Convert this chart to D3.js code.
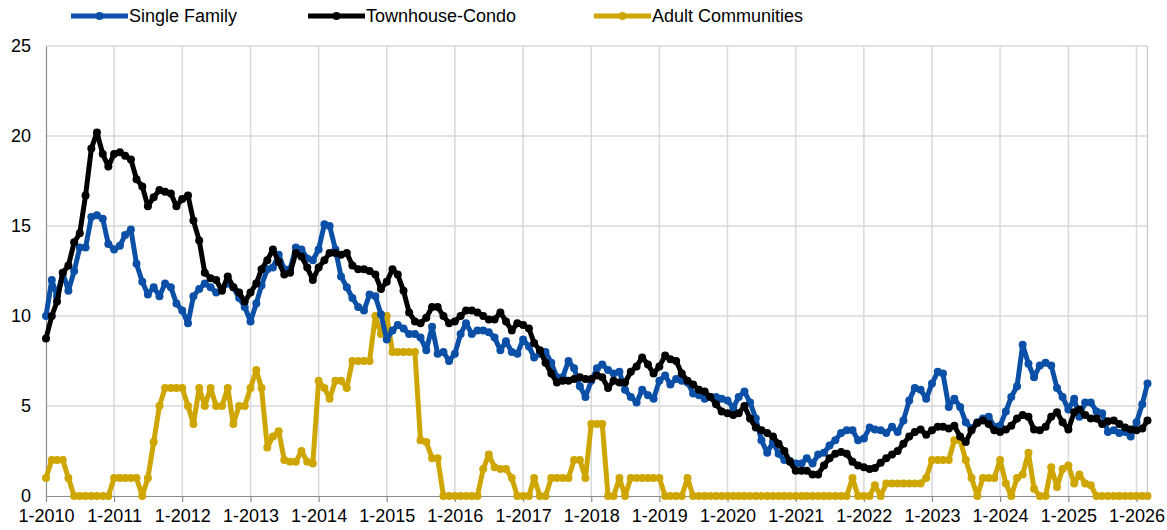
<!DOCTYPE html>
<meta charset="utf-8">
<script src="https://d3js.org/d3.v7.min.js"></script>
<style>
  body { margin: 0; background: #fff; }
  text { font-family: "Liberation Sans", Arial, sans-serif; }
</style>
<div id="chart"></div>
<script>
// monthly values, Jan 2010 .. Mar 2026 (one row per year)
var singleFamily = [
  10.0, 12.0, 11.1, 12.4, 11.4, 12.5, 13.8, 13.8, 15.5, 15.6, 15.4, 14.0,
  13.7, 13.9, 14.5, 14.8, 12.9, 11.9, 11.2, 11.6, 11.1, 11.8, 11.6, 10.7,
  10.3, 9.6, 11.1, 11.5, 11.8, 11.6, 11.3, 11.5, 11.8, 11.6, 11.0, 10.5,
  9.7, 10.7, 11.7, 12.6, 12.7, 13.4, 12.6, 12.6, 13.8, 13.7, 13.2, 13.1,
  13.7, 15.1, 15.0, 13.7, 12.2, 11.6, 11.0, 10.5, 10.3, 11.2, 11.1, 10.1,
  8.7, 9.2, 9.5, 9.3, 9.0, 9.0, 8.8, 8.1, 9.4, 7.9, 8.0, 7.5,
  7.9, 9.0, 9.6, 9.0, 9.2, 9.2, 9.1, 8.8, 8.1, 8.6, 8.0, 7.9,
  8.7, 8.3, 7.7, 7.9, 8.0, 7.4, 6.6, 6.6, 7.5, 7.1, 6.1, 5.5,
  6.4, 7.1, 7.3, 7.0, 6.8, 6.9, 5.9, 5.5, 5.2, 5.9, 5.6, 5.4,
  6.4, 6.7, 6.2, 6.5, 6.4, 6.3, 5.7, 5.6, 5.4, 5.5, 5.5, 5.4,
  5.3, 4.9, 5.5, 5.8, 5.2, 4.3, 3.1, 2.4, 3.0, 2.35, 2.0, 1.95,
  1.8, 1.8, 2.1, 1.8, 2.3, 2.4, 2.8, 3.1, 3.5, 3.65, 3.65, 3.1,
  3.2, 3.8, 3.7, 3.65, 3.5, 3.85, 3.55, 4.2, 5.3, 6.0, 5.9, 5.4,
  6.25, 6.9, 6.8, 4.95, 5.4, 4.95, 4.1, 3.75, 4.1, 4.3, 4.4, 3.85,
  3.9, 4.7, 5.5, 6.1, 8.4, 7.35, 6.6, 7.25, 7.4, 7.25, 6.0, 5.5,
  4.8, 5.4, 4.4, 5.2, 5.2, 4.7, 4.6, 3.55, 3.65, 3.5, 3.55, 3.3,
  4.1, 5.1, 6.25
];

var townhouseCondo = [
  8.75, 10.0, 10.8, 12.4, 12.8, 14.1, 14.6, 16.7, 19.3, 20.2, 19.0, 18.3,
  19.0, 19.1, 18.9, 18.7, 17.6, 17.2, 16.1, 16.6, 17.0, 16.9, 16.8, 16.1,
  16.5, 16.7, 15.3, 14.2, 12.4, 12.1, 12.0, 11.4, 12.2, 11.6, 11.3, 10.8,
  11.3, 11.8, 12.6, 13.1, 13.7, 13.0, 12.3, 12.4, 13.5, 13.3, 12.7, 12.0,
  12.7, 13.1, 13.5, 13.5, 13.4, 13.5, 12.8, 12.6, 12.6, 12.5, 12.3, 11.5,
  11.9, 12.6, 12.3, 11.4, 10.2, 9.7, 9.6, 9.9, 10.5, 10.5, 10.0, 9.6,
  9.7, 10.0, 10.3, 10.3, 10.2, 10.0, 9.8, 9.8, 10.2, 9.7, 9.2, 9.6,
  9.5, 9.3, 8.5, 8.1, 7.4, 6.8, 6.3, 6.4, 6.4, 6.5, 6.6, 6.5,
  6.5, 6.7, 6.6, 6.0, 6.4, 6.3, 6.3, 6.9, 7.2, 7.7, 7.3, 6.8,
  7.2, 7.8, 7.6, 7.5, 6.8, 6.4, 6.2, 5.9, 5.8, 5.5, 5.1, 4.7,
  4.6, 4.5, 4.6, 5.0, 4.3, 3.8, 3.65, 3.5, 3.3, 2.9, 2.5, 1.9,
  1.4, 1.4, 1.4, 1.2, 1.2, 1.7, 2.1, 2.35, 2.45, 2.35, 1.9, 1.7,
  1.6, 1.5, 1.55, 1.85, 2.1, 2.3, 2.5, 2.9, 3.3, 3.55, 3.7, 3.4,
  3.65, 3.85, 3.85, 3.75, 3.9, 3.3, 3.0, 3.65, 4.05, 4.2, 4.0, 3.65,
  3.55, 3.7, 3.9, 4.3, 4.5, 4.4, 3.7, 3.65, 3.85, 4.4, 4.65, 4.1,
  3.7, 4.65, 4.8, 4.5, 4.3, 4.3, 4.0, 4.15, 4.2, 4.0, 3.8, 3.7,
  3.65, 3.75, 4.2
];

var adultCommunities = [
  1, 2, 2, 2, 1, 0, 0, 0, 0, 0, 0, 0,
  1, 1, 1, 1, 1, 0, 1, 3, 5, 6, 6, 6,
  6, 5, 4, 6, 5, 6, 5, 5, 6, 4, 5, 5,
  6, 7, 6, 2.7, 3.3, 3.6, 2.0, 1.9, 1.9, 2.5, 1.9, 1.8,
  6.4, 6.0, 5.4, 6.4, 6.4, 6.0, 7.5, 7.5, 7.5, 7.5, 10.0, 9.0,
  10.0, 8.0, 8.0, 8.0, 8.0, 8.0, 3.1, 3.0, 2.1, 2.1, 0, 0,
  0, 0, 0, 0, 0, 1.5, 2.3, 1.6, 1.5, 1.5, 1.0, 0,
  0, 0, 1, 0, 0, 1, 1, 1, 1, 2, 2, 1,
  4, 4, 4, 0, 0, 1, 0, 1, 1, 1, 1, 1,
  1, 0, 0, 0, 0, 1, 0, 0, 0, 0, 0, 0,
  0, 0, 0, 0, 0, 0, 0, 0, 0, 0, 0, 0,
  0, 0, 0, 0, 0, 0, 0, 0, 0, 0, 1, 0,
  0, 0, 0.6, 0, 0.7, 0.7, 0.7, 0.7, 0.7, 0.7, 0.7, 1.0,
  2, 2, 2, 2, 3.1, 3.1, 2.0, 1.0, 0, 1, 1, 1,
  2.0, 0.7, 0, 1.0, 1.2, 2.4, 0.4, 0, 0, 1.6, 0.5, 1.5,
  1.7, 0.7, 1.2, 0.7, 0.6, 0, 0, 0, 0, 0, 0, 0,
  0, 0, 0
];

var seriesNames = ["Single Family", "Townhouse-Condo", "Adult Communities"];
var seriesColors = ["#0b50a6", "#000000", "#cfa600"];
var yTicks = [0, 5, 10, 15, 20, 25];

var months = d3.timeMonth.range(new Date(2010, 0, 1), new Date(2026, 3, 1));

var W = 1167, H = 530;
var margin = {top: 46, right: 19.5, bottom: 34, left: 46};
var width = W - margin.left - margin.right,
    height = H - margin.top - margin.bottom;

var svg = d3.select("#chart").append("svg")
    .attr("width", W)
    .attr("height", H);

var g = svg.append("g")
    .attr("transform", "translate(" + margin.left + "," + margin.top + ")");

var x = d3.scaleTime()
    .domain([months[0], months[months.length - 1]])
    .range([0, width]);

var y = d3.scaleLinear()
    .domain([0, 25])
    .range([height, 0]);

// horizontal gridlines
g.selectAll(".hgrid")
  .data(yTicks.filter(function(d) { return d > 0; }))
  .enter().append("line")
    .attr("x1", 0).attr("x2", width)
    .attr("y1", function(d) { return y(d); })
    .attr("y2", function(d) { return y(d); })
    .style("stroke", "#d9d9d9")
    .style("stroke-width", 1.5);

// vertical gridlines, every January
var years = d3.timeYear.range(new Date(2011, 0, 1), new Date(2026, 1, 1));
g.selectAll(".vgrid")
  .data(years)
  .enter().append("line")
    .attr("x1", function(d) { return x(d); })
    .attr("x2", function(d) { return x(d); })
    .attr("y1", 0).attr("y2", height)
    .style("stroke", "#d9d9d9")
    .style("stroke-width", 1.5);

// right border
g.append("line")
    .attr("x1", width).attr("x2", width)
    .attr("y1", 0).attr("y2", height)
    .style("stroke", "#c8c8c8")
    .style("stroke-width", 1.2);

// y axis labels
var yAxis = g.append("g")
    .call(d3.axisLeft(y).tickValues(yTicks).tickSize(0).tickPadding(15));
yAxis.select(".domain").style("stroke", "#8c8c8c").style("stroke-width", 1.2);
yAxis.selectAll("text").style("font-size", "18px").style("fill", "#000");

// x axis
var xAxis = g.append("g")
    .attr("transform", "translate(0," + height + ")")
    .call(d3.axisBottom(x)
      .ticks(d3.timeYear.every(1))
      .tickFormat(d3.timeFormat("1-%Y"))
      .tickSize(6)
      .tickSizeOuter(0)
      .tickPadding(7));
xAxis.select(".domain").style("stroke", "#8c8c8c").style("stroke-width", 1.2);
xAxis.selectAll(".tick line").style("stroke", "#8c8c8c").style("stroke-width", 1.2);
xAxis.selectAll("text").style("font-size", "18px").style("fill", "#000");

// series
var series = [singleFamily, townhouseCondo, adultCommunities];
var line = d3.line()
    .x(function(d, i) { return x(months[i]); })
    .y(function(d) { return y(d); });

// draw yellow first, then blue, then black on top
[2, 0, 1].forEach(function(s) {
  var data = series[s];
  g.append("path")
    .datum(data)
    .attr("d", line)
    .style("fill", "none")
    .style("stroke", seriesColors[s])
    .style("stroke-width", 5)
    .style("stroke-linejoin", "round");
  g.selectAll(".pt" + s)
    .data(data)
    .enter().append("circle")
      .attr("cx", function(d, i) { return x(months[i]); })
      .attr("cy", function(d) { return y(d); })
      .attr("r", 4)
      .style("fill", seriesColors[s]);
});

// legend
var legendX = [71, 308, 594];
var legend = svg.selectAll(".legend")
  .data(seriesNames)
  .enter().append("g")
    .attr("transform", function(d, i) { return "translate(" + legendX[i] + ",16)"; });
legend.append("line")
    .attr("x1", 0).attr("x2", 57)
    .style("stroke", function(d, i) { return seriesColors[i]; })
    .style("stroke-width", 5);
legend.append("circle")
    .attr("cx", 28.5).attr("r", 4)
    .style("fill", function(d, i) { return seriesColors[i]; });
legend.append("text")
    .attr("x", 58)
    .attr("dy", "0.35em")
    .style("font-size", "18px")
    .text(function(d) { return d; });
</script>
